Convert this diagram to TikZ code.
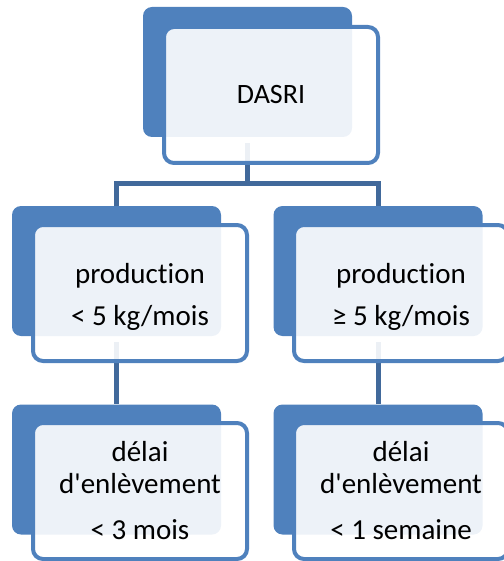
\documentclass[tikz,border=0pt]{standalone}
\usepackage{fontspec}
\setmainfont{Carlito}[Ligatures={TeXOff,CommonOff}]
\definecolor{accent}{HTML}{4F81BD}
\definecolor{connc}{HTML}{41699B}
\begin{document}
\begin{tikzpicture}[x=1pt,y=-1pt,
  backbox/.style={fill=accent,draw=none,rounded corners=9pt,minimum width=209pt,minimum height=130pt,inner sep=0pt},
  frontbox/.style={draw=accent,line width=4pt,fill=white,fill opacity=0.9,text opacity=1,rounded corners=10pt,minimum width=214pt,minimum height=136pt,inner sep=0pt,align=center,text=black},
  conn/.style={draw=connc,line width=5pt},
  midtext/.style={font=\fontsize{29}{42}\selectfont},
  lowtext/.style={font=\fontsize{29}{32}\selectfont}]
\useasboundingbox (0,0) rectangle (503,561);
% back boxes
\node[backbox] (b1) at (247.5,72) {};
\node[backbox] (b2) at (116.5,271) {};
\node[backbox] (b3) at (378,271) {};
\node[backbox] (b4) at (116.5,469.5) {};
\node[backbox] (b5) at (378,469.5) {};
% connectors
\coordinate (j) at (247.5,184);
\draw[conn] ([yshift=-6pt]b1.south) -- (j);
\draw[conn] (b2.north) |- (j) -| (b3.north);
\draw[conn] ([yshift=-6pt]b2.south) -- (b4.north);
\draw[conn] ([yshift=-6pt]b3.south) -- (b5.north);
% front boxes
\node[frontbox,font=\fontsize{28}{34}\selectfont] (f1) at (271,95) {DASRI};
\node[frontbox,midtext] (f2) at (140,293) {\rule{0pt}{27pt}production\\{<} 5 kg/mois};
\node[frontbox,midtext] (f3) at (401,293) {\rule{0pt}{27pt}production\\≥ 5 kg/mois};
\node[frontbox,lowtext] (f4) at (140,491) {délai\\d'enlèvement\\[14pt]{<} 3 mois};
\node[frontbox,lowtext] (f5) at (401,491) {délai\\d'enlèvement\\[14pt]{<} 1 semaine};
\end{tikzpicture}
\end{document}
